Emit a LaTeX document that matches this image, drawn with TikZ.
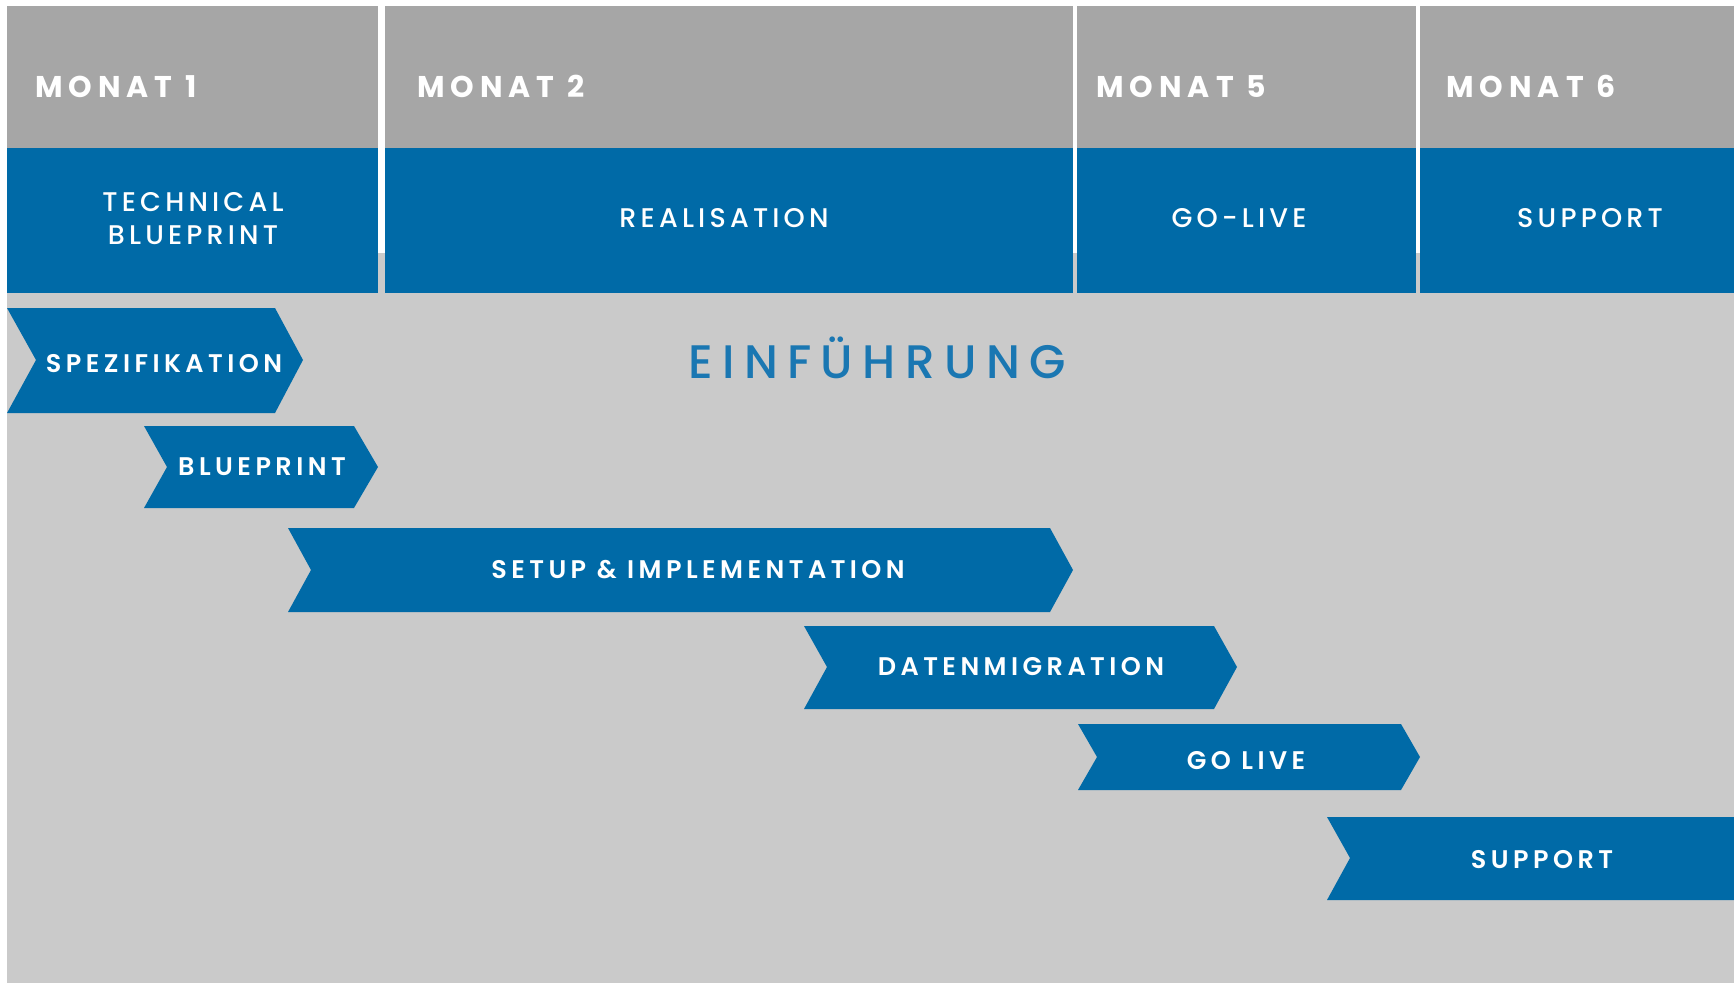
\documentclass[tikz,border=0pt]{standalone}
\usepackage{fontspec}
\setmainfont{Poppins}
\IfFontExistsTF{Poppins Medium}{%
  \newfontfamily\fphase{Poppins Medium}[LetterSpace=15.5]%
  \newfontfamily\ftitle{Poppins Medium}[LetterSpace=20]}{%
  \newfontfamily\fphase{Poppins}[LetterSpace=15.5]%
  \newfontfamily\ftitle{Poppins}[LetterSpace=20]}
\IfFontExistsTF{Poppins SemiBold}{\newfontfamily\fsemi{Poppins SemiBold}[LetterSpace=17.5]}{\newfontfamily\fsemi{Poppins}[LetterSpace=17.5,FakeBold=1.5]}
\newfontfamily\fbold{Poppins}[LetterSpace=20]
\definecolor{hdrgray}{HTML}{A6A6A6}
\definecolor{bodygray}{HTML}{CACACA}
\definecolor{myblue}{HTML}{006AA7}
\definecolor{titleblue}{HTML}{1A77B2}
\tikzset{
  monat/.style={anchor=base west, inner sep=0pt, text=white, font=\fbold\bfseries\fontsize{30}{36}\selectfont},
  phase/.style={anchor=base, inner sep=0pt, text=white, align=center, font=\fphase\fontsize{27}{33}\selectfont},
  chevlabel/.style={anchor=base, inner sep=0pt, text=white, font=\fsemi\fontsize{25.5}{30}\selectfont},
  chev/.style={fill=myblue},
  title/.style={anchor=base, inner sep=0pt, text=titleblue, font=\ftitle\fontsize{47}{55}\selectfont}
}
\begin{document}
\begin{tikzpicture}[x=1pt,y=-1pt]
\useasboundingbox (0,0) rectangle (1734,983);
\fill[white] (0,0) rectangle (1734,983);
\fill[bodygray] (7,253) rectangle (1734,983);
% header columns
\fill[hdrgray] (7,6) rectangle (378,148);
\fill[hdrgray] (385,6) rectangle (1073,148);
\fill[hdrgray] (1077,6) rectangle (1416,148);
\fill[hdrgray] (1420,6) rectangle (1734,148);
\fill[myblue] (7,148) rectangle (378,293);
\fill[myblue] (385,148) rectangle (1073,293);
\fill[myblue] (1077,148) rectangle (1416,293);
\fill[myblue] (1420,148) rectangle (1734,293);
\node[monat] (m1) at (35,97) {MONAT 1};
\node[monat] (m2) at (417,97) {MONAT 2};
\node[monat] (m5) at (1096,97) {MONAT 5};
\node[monat] (m6) at (1446,97) {MONAT 6};
\node[phase] (p1a) at (193,211) {TECHNICAL};
\node[phase] (p1b) at (193,244) {BLUEPRINT};
\node[phase] (p2) at (724,227) {REALISATION};
\node[phase] (p5) at (1239,227) {GO-LIVE};
\node[phase] (p6) at (1590,227) {SUPPORT};
\node[title] (ein) at (877,378) {EINFÜHRUNG};
% chevrons
\fill[chev] (7,308) -- (275,308) -- (303,360) -- (275,413) -- (7,413) -- (36,360) -- cycle;
\node[chevlabel] (c1) at (164,372) {SPEZIFIKATION};
\fill[chev] (144,426) -- (354,426) -- (378,467) -- (354,508) -- (144,508) -- (167,467) -- cycle;
\node[chevlabel] (c2) at (262,475) {BLUEPRINT};
\fill[chev] (288,528) -- (1050,528) -- (1073,570) -- (1050,612) -- (288,612) -- (311,570) -- cycle;
\node[chevlabel] (c3) at (698,578) {SETUP \& IMPLEMENTATION};
\fill[chev] (804,626) -- (1214,626) -- (1237,667) -- (1214,709) -- (804,709) -- (827,667) -- cycle;
\node[chevlabel] (c4) at (1021,675) {DATENMIGRATION};
\fill[chev] (1078,724) -- (1401,724) -- (1420,757) -- (1401,790) -- (1078,790) -- (1097,757) -- cycle;
\node[chevlabel] (c5) at (1246,769) {GO LIVE};
\fill[chev] (1327,817) -- (1734,817) -- (1734,900) -- (1327,900) -- (1350,858) -- cycle;
\node[chevlabel] (c6) at (1542,868) {SUPPORT};
\end{tikzpicture}
\end{document}
